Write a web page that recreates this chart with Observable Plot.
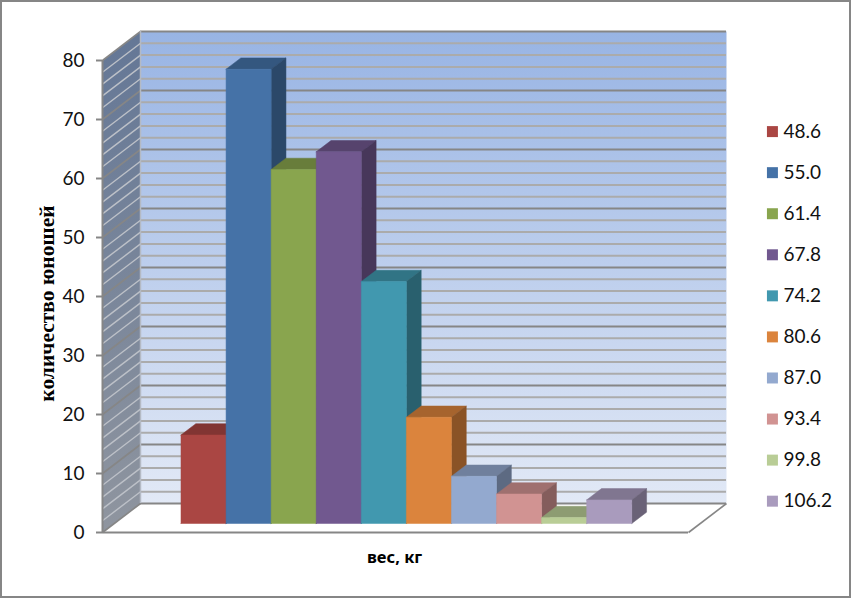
<!DOCTYPE html>
<html>
<head>
<meta charset="utf-8">
<script src="https://cdn.jsdelivr.net/npm/d3@7"></script>
<script src="https://cdn.jsdelivr.net/npm/@observablehq/plot@0.6"></script>
<style>
html,body{margin:0;padding:0;background:#fff}
svg{display:block}
</style>
</head>
<body>
<div id="chart"></div>
<script>
// data
const weights = ["48.6","55.0","61.4","67.8","74.2","80.6","87.0","93.4","99.8","106.2"];
const counts  = [15, 77, 60, 63, 41, 18, 8, 5, 1, 4];
const yTicks  = [0,10,20,30,40,50,60,70,80];
const minorTicks = [2,4,6,8,12,14,16,18,22,24,26,28,32,34,36,38,42,44,46,48,52,54,56,58,62,64,66,68,72,74,76,78];
const majorTicks = [0,10,20,30,40,50,60,70,80];
const yTitle = "количество юношей";
const xTitle = "вес, кг";
const barColors = ["#AA4643","#4572A7","#89A54E","#71588F","#4198AF","#DB843D","#93A9CF","#D19392","#B9CD96","#A99BBD"];

// oblique projection, in scale units
const slots = 13, firstSlot = 1.48;
const depthX = 0.843, depthY = 4.915;
const zFront = 0.31, zBack = 0.70;
const at = (u, v, z) => ({x: u + z * depthX, y: v + z * depthY});

const shade = (c, k) => { const r = d3.rgb(c); return d3.rgb(r.r*k, r.g*k, r.b*k).formatHex(); };

const faces = [];
weights.forEach((w, i) => {
  const u0 = firstSlot + i, u1 = u0 + 1, v = counts[i], c = barColors[i];
  const add = (name, fill, pts) => pts.forEach(p => faces.push({...p, id: w + name, fill}));
  add("top", shade(c, 0.76), [at(u0,v,zFront), at(u1,v,zFront), at(u1,v,zBack), at(u0,v,zBack), at(u0,v,zFront)]);
  add("side", shade(c, 0.63), [at(u1,0,zFront), at(u1,v,zFront), at(u1,v,zBack), at(u1,0,zBack), at(u1,0,zFront)]);
  add("front", c, [at(u0,0,zFront), at(u1,0,zFront), at(u1,v,zFront), at(u0,v,zFront), at(u0,0,zFront)]);
});

const gradients = () => {
  const defs = d3.create("svg:defs");
  const make = (id, a, b) => {
    const g = defs.append("linearGradient").attr("id", id).attr("x1",0).attr("x2",0).attr("y1",0).attr("y2",1);
    g.append("stop").attr("offset","0%").attr("stop-color",a);
    g.append("stop").attr("offset","100%").attr("stop-color",b);
  };
  make("wallBack", "#98B4E4", "#E2E9F6");
  make("wallLeft", "#647796", "#8F959F");
  return defs.node();
};

const backWall = [at(0,0,1), at(slots,0,1), at(slots,80,1), at(0,80,1), at(0,0,1)];
const leftWall = [at(0,0,0), at(0,0,1), at(0,80,1), at(0,80,0), at(0,0,0)];

const legendV = (i) => 67.95 - i * 6.96;

const chart = Plot.plot({
  width: 851, height: 598,
  marginLeft: 102, marginRight: 163, marginTop: 60, marginBottom: 66,
  x: {domain: [0, slots], axis: null},
  y: {domain: [0, 80], axis: null},
  style: {background: "#fff", fontFamily: "Lato, sans-serif", overflow: "visible", outline: "2px solid #868686", outlineOffset: "-2px"},
  marks: [
    gradients,
    Plot.line(backWall, {x:"x", y:"y", fill:"url(#wallBack)", stroke:"none"}),
    Plot.line(leftWall, {x:"x", y:"y", fill:"url(#wallLeft)", stroke:"none"}),
    // minor gridlines
    Plot.ruleY(minorTicks, {y: v => v + depthY, x1: () => depthX, x2: () => slots + depthX, stroke:"#ABABAB", strokeWidth:2}),
    Plot.link(minorTicks, {x1: () => 0, y1: v => v, x2: () => depthX, y2: v => v + depthY, stroke:"#BDC1C8", strokeWidth:1.4}),
    // major gridlines
    Plot.ruleY(majorTicks, {y: v => v + depthY, x1: () => depthX, x2: () => slots + depthX, stroke:"#868686", strokeWidth:2}),
    Plot.link(majorTicks, {x1: () => 0, y1: v => v, x2: () => depthX, y2: v => v + depthY, stroke:"#868686", strokeWidth:1.6}),
    // wall corner and floor
    Plot.ruleX([depthX], {y1: depthY, y2: 80 + depthY, stroke:"#B4BAC4", strokeWidth:1.5}),
    Plot.link([slots], {x1: u => u, y1: () => 0, x2: u => u + depthX, y2: () => depthY, stroke:"#868686", strokeWidth:1.6}),
    Plot.ruleX([0], {y1: 0, y2: 80, stroke:"#868686", strokeWidth:2}),
    Plot.ruleY([0], {x1: () => 0, x2: () => slots, stroke:"#868686", strokeWidth:2}),
    // bars
    Plot.line(faces, {x:"x", y:"y", z:"id", fill:"fill", stroke:"fill", strokeWidth:0.5}),
    // axis
    Plot.axisY({ticks: yTicks, tickSize: 6, tickPadding: 12, strokeWidth: 2, stroke:"#868686", fill:"#111", fontSize: 19, label: null}),
    Plot.text([yTitle], {x: () => -1.22, y: () => 38.8, text: d => d, rotate: -90, fontFamily:"'Liberation Serif', serif", fontWeight:"bold", fontSize:21.5, fill:"#000"}),
    Plot.text([xTitle], {x: () => 6.48, y: () => -4.2, text: d => d, fontFamily:"'Noto Sans', sans-serif", fontWeight:"bold", fontSize:16.5, fill:"#000"}),
    // legend
    Plot.dot(weights, {x: () => 14.862, y: (d,i) => legendV(i), symbol:"square", r:6.2, stroke:"none", fill:(d,i) => barColors[i]}),
    Plot.text(weights, {x: () => 15.107, y: (d,i) => legendV(i), text: d => d, textAnchor:"start", fontSize:19, fill:"#111"})
  ]
});
document.getElementById("chart").appendChild(chart);
</script>
</body>
</html>
